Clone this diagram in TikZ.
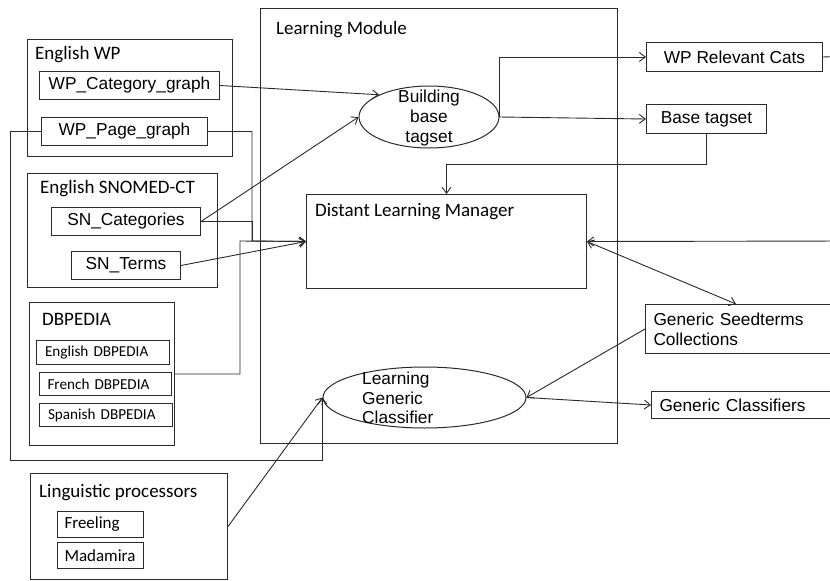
\documentclass[tikz,border=0pt]{standalone}
\usepackage{fontspec}
\setmainfont{Liberation Sans}
\newfontfamily\calfont{Carlito}
\usetikzlibrary{arrows.meta,shapes.geometric,calc}
\definecolor{lc}{HTML}{2A2A2A}
\tikzset{
  box/.style={draw=lc, line width=1pt, anchor=north west, inner sep=0pt, font=\fontsize{17.3}{20}\selectfont},
  ttl/.style={anchor=base west, inner sep=0pt, font=\calfont\fontsize{19}{22}\selectfont},
  smallbox/.style={box, font=\calfont\fontsize{15.2}{18}\selectfont, text width=116, align=left, inner xsep=8pt},
  lingbox/.style={box, font=\calfont\fontsize{17}{20}\selectfont, text width=72, align=left, inner xsep=7pt},
  ell/.style={draw=lc, line width=1pt, ellipse, inner sep=0pt},
  etxt/.style={inner sep=0pt, font=\fontsize{17.3}{19.8}\selectfont},
  ln/.style={draw=lc, line width=0.9pt},
  arr/.style={ln, -{Straight Barb[length=6pt,width=9pt]}},
  arrb/.style={ln, {Straight Barb[length=6pt,width=9pt]}-{Straight Barb[length=6pt,width=9pt]}}
}
\begin{document}
\begin{tikzpicture}[x=1pt,y=-1pt]
\useasboundingbox (0,0) rectangle (830,581);
\clip (0,0) rectangle (830,581);
\fill[white] (0,0) rectangle (830,581);

% Learning module
\node[box, minimum width=357, minimum height=435] (lm) at (260,8) {};
\node[ttl] (lmt) at (276,34) {Learning Module};

% English WP
\node[box, minimum width=205, minimum height=117] (engwp) at (27,39) {};
\node[ttl] (engwpt) at (35,59) {English WP};
\node[box, minimum width=180, minimum height=28] (wpcat) at (39,71) {WP\_Category\_graph};
\node[box, minimum width=166, minimum height=28] (wppage) at (41,117) {WP\_Page\_graph};

% SNOMED
\node[box, minimum width=190, minimum height=114] (snomed) at (27,173) {};
\node[ttl] (snomedt) at (40,193) {English SNOMED-CT};
\node[box, minimum width=149, minimum height=28] (sncat) at (51,207) {SN\_Categories};
\node[box, minimum width=109, minimum height=28] (snterms) at (71,251) {SN\_Terms};

% DBPEDIA
\node[box, minimum width=145, minimum height=143] (dbp) at (29,302) {};
\node[ttl] (dbpt) at (42,325) {DBPEDIA};
\node[smallbox, minimum width=133, minimum height=24] (endbp) at (36,340) {English DBPEDIA};
\node[smallbox, minimum width=132, minimum height=23] (frdbp) at (39,372) {French DBPEDIA};
\node[smallbox, minimum width=133, minimum height=23] (esdbp) at (39,403) {Spanish DBPEDIA};

% Linguistic processors
\node[box, minimum width=197, minimum height=106] (ling) at (30,473) {};
\node[ttl] (lingt) at (39,497) {Linguistic processors};
\node[lingbox, minimum width=86, minimum height=26] (freeling) at (57,511) {Freeling};
\node[lingbox, minimum width=86, minimum height=26] (madamira) at (57,542) {Madamira};

% Building base tagset
\node[ell, minimum width=140, minimum height=62] (bbt) at (429,117) {};
\node[etxt, align=center] (bbtt) at (429,118) {Building\\base\\tagset};

% Distant Learning Manager
\node[box, minimum width=280, minimum height=94] (dlm) at (306,194) {};
\node[ttl] (dlmt) at (315,216) {Distant Learning Manager};

% Learning Generic Classifier
\node[ell, minimum width=203, minimum height=61] (lgc) at (424.5,397.5) {};
\node[etxt, align=left, anchor=west] (lgct) at (362,398) {Learning\\Generic\\Classifier};

% Right boxes
\node[box, minimum width=176, minimum height=29] (relcats) at (646,42) {WP Relevant Cats};
\node[box, minimum width=120, minimum height=29] (base) at (646,104) {Base tagset};
\node[box, minimum width=225, minimum height=49, text width=209, align=left, inner xsep=8pt] (seed) at (645,304) {Generic Seedterms\\Collections};
\node[box, minimum width=220, minimum height=27, text width=204, align=left, inner xsep=8pt] (gencls) at (651,391) {Generic Classifiers};

% helper coordinates
\coordinate (j1) at (252,241);
\coordinate (j2) at (240,241);
\coordinate (k1) at (10,460);
\coordinate (off1) at (850,56);
\coordinate (off2) at (850,241);
\coordinate (seedtop) at (736,304);

% connectors
\draw[arr] (wpcat.east) -- (bbt.156);
\draw[arr] (sncat.east) -- (bbt.west);
\draw[ln] (sncat.east) -| (j1);
\draw[arr] (wppage.east) -| (j1) -- (dlm.west);
\draw[arr] (snterms.east) -- (dlm.west);
\draw[arr] (dbp.east) -| (j2) -- (dlm.west);
\draw[arr] (wppage.west) -| (k1) -- (k1 -| lgc.west) -- (lgc.west);
\draw[arr] (ling.east) -- (lgc.west);
\draw[arr] (bbt.east) |- (relcats.west);
\draw[arr] (bbt.east) -- (base.west);
\draw[arr] (base.south) -- ++(0,30) -| (dlm.north);
\draw[ln] (relcats.east) -- (off1);
\draw[arr] (off2) -- (dlm.east);
\draw[arrb] (dlm.east) -- (seedtop);
\draw[arr] (seed.west) -- (lgc.east);
\draw[arr] (lgc.east) -- (gencls.west);
\end{tikzpicture}
\end{document}
